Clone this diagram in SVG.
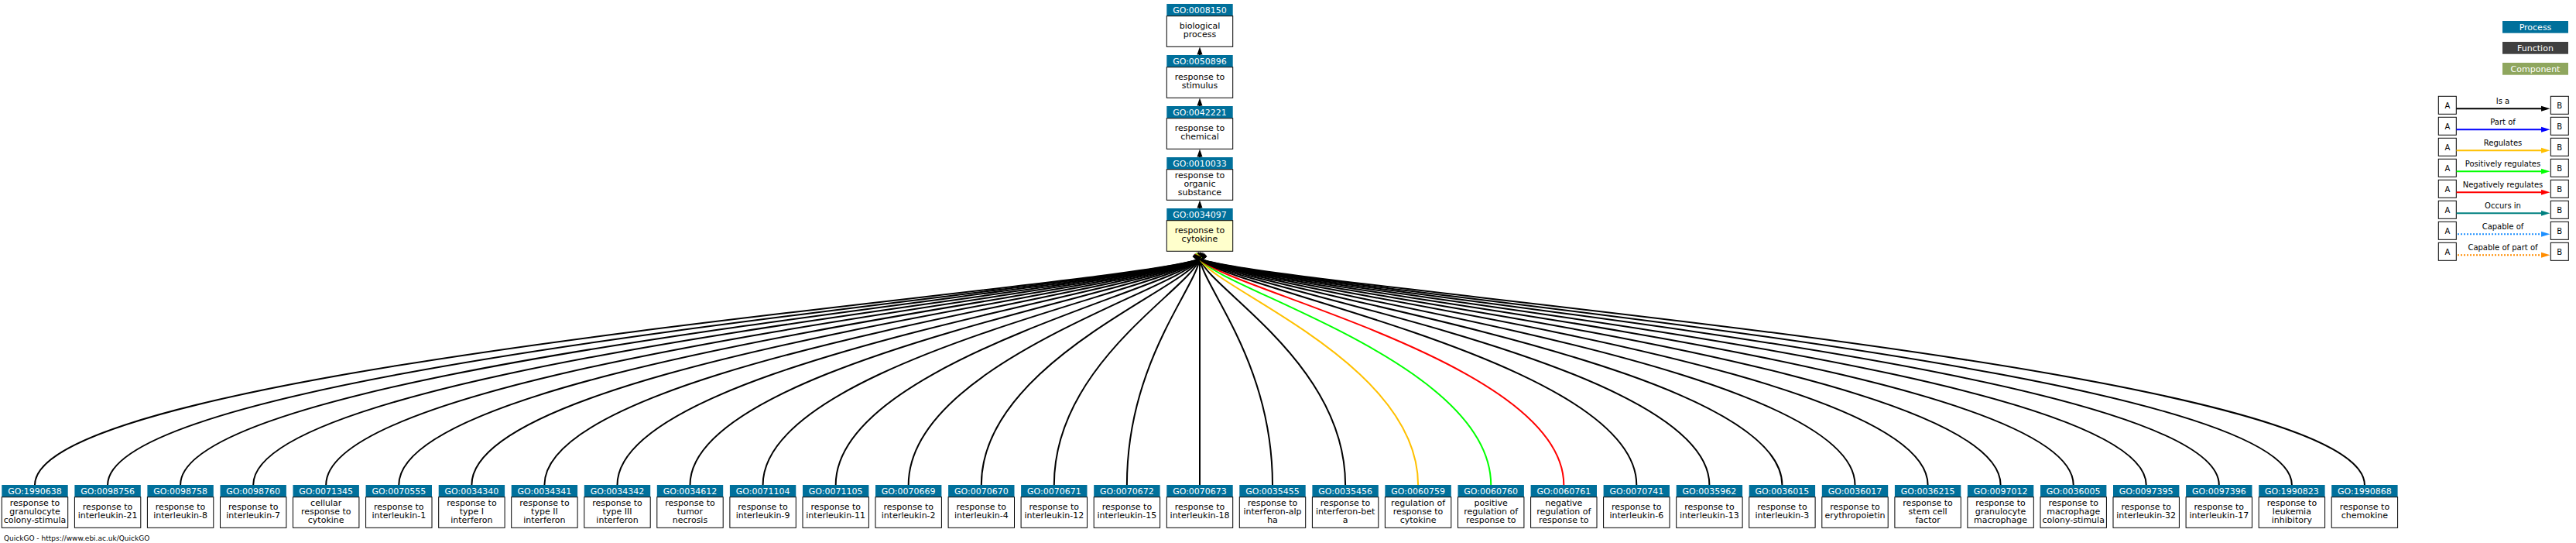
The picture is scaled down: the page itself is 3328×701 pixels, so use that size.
<svg xmlns="http://www.w3.org/2000/svg" width="3328" height="701" viewBox="0 0 3328 701">
<style>
text{font-family:"DejaVu Sans","Liberation Sans",sans-serif;text-anchor:middle}
.hdr{fill:#00709b}
.body{fill:#ffffff;stroke:#000;stroke-width:1}
.sel{fill:#ffffcc}
.ht{font-size:11px;fill:#ffffff}
.bt{font-size:11px;fill:#000}
.e{fill:none;stroke:#000;stroke-width:2}
.k{marker-end:url(#ak)}
.lg{font-size:10px;fill:#000}
.lbox{fill:#fff;stroke:#000;stroke-width:1}
.lt{font-size:11px;fill:#fff}
</style>
<defs>
<marker id="ak" markerUnits="userSpaceOnUse" markerWidth="10" markerHeight="8" viewBox="0 0 10 7" refX="0" refY="3.5" orient="auto"><path d="M0,0 L10,3.5 L0,7 z" fill="#000"/></marker>
<marker id="ay" markerUnits="userSpaceOnUse" markerWidth="10" markerHeight="8" viewBox="0 0 10 7" refX="0" refY="3.5" orient="auto"><path d="M0,0 L10,3.5 L0,7 z" fill="#ffc000"/></marker>
<marker id="ag" markerUnits="userSpaceOnUse" markerWidth="10" markerHeight="8" viewBox="0 0 10 7" refX="0" refY="3.5" orient="auto"><path d="M0,0 L10,3.5 L0,7 z" fill="#00ff00"/></marker>
<marker id="ar" markerUnits="userSpaceOnUse" markerWidth="10" markerHeight="8" viewBox="0 0 10 7" refX="0" refY="3.5" orient="auto"><path d="M0,0 L10,3.5 L0,7 z" fill="#ff0000"/></marker>
</defs>
<rect width="3328" height="701" fill="#ffffff"/>

<g id="connectors">
<line x1="1550" y1="71" x2="1550" y2="68" class="e"/><polygon points="1546.5,70.5 1550,60.5 1553.5,70.5" fill="#000"/>
<line x1="1550" y1="137" x2="1550" y2="134" class="e"/><polygon points="1546.5,136.5 1550,126.5 1553.5,136.5" fill="#000"/>
<line x1="1550" y1="203" x2="1550" y2="200" class="e"/><polygon points="1546.5,202.5 1550,192.5 1553.5,202.5" fill="#000"/>
<line x1="1550" y1="269" x2="1550" y2="266" class="e"/><polygon points="1546.5,268.5 1550,258.5 1553.5,268.5" fill="#000"/>
<path class="e k" d="M45,626 C45,470 1429.6,375 1550,334.5"/>
<path class="e k" d="M139.1,626 C139.1,470 1437.1,375 1550,334.5"/>
<path class="e k" d="M233.1,626 C233.1,470 1444.6,375 1550,334.5"/>
<path class="e k" d="M327.2,626 C327.2,470 1452.2,375 1550,334.5"/>
<path class="e k" d="M421.2,626 C421.2,470 1459.7,375 1550,334.5"/>
<path class="e k" d="M515.3,626 C515.3,470 1467.2,375 1550,334.5"/>
<path class="e k" d="M609.4,626 C609.4,470 1474.8,375 1550,334.5"/>
<path class="e k" d="M703.4,626 C703.4,470 1482.3,375 1550,334.5"/>
<path class="e k" d="M797.5,626 C797.5,470 1489.8,375 1550,334.5"/>
<path class="e k" d="M891.5,626 C891.5,470 1497.3,375 1550,334.5"/>
<path class="e k" d="M985.6,626 C985.6,470 1504.8,375 1550,334.5"/>
<path class="e k" d="M1079.7,626 C1079.7,470 1512.4,375 1550,334.5"/>
<path class="e k" d="M1173.7,626 C1173.7,470 1519.9,375 1550,334.5"/>
<path class="e k" d="M1267.8,626 C1267.8,470 1527.4,375 1550,334.5"/>
<path class="e k" d="M1361.8,626 C1361.8,470 1534.9,375 1550,334.5"/>
<path class="e k" d="M1455.9,626 C1455.9,470 1542.5,375 1550,334.5"/>
<path class="e k" d="M1550,626 L1550,334.5"/>
<path class="e k" d="M1644,626 C1644,470 1557.5,375 1550,334.5"/>
<path class="e k" d="M1738.1,626 C1738.1,470 1565,375 1550,334.5"/>
<path class="e" style="stroke:#ffc000" marker-end="url(#ay)" d="M1832.1,626 C1832.1,470 1572.6,375 1550,334.5"/>
<path class="e" style="stroke:#00ff00" marker-end="url(#ag)" d="M1926.2,626 C1926.2,470 1580.1,375 1550,334.5"/>
<path class="e" style="stroke:#ff0000" marker-end="url(#ar)" d="M2020.3,626 C2020.3,470 1587.6,375 1550,334.5"/>
<path class="e k" d="M2114.3,626 C2114.3,470 1595.1,375 1550,334.5"/>
<path class="e k" d="M2208.4,626 C2208.4,470 1602.7,375 1550,334.5"/>
<path class="e k" d="M2302.4,626 C2302.4,470 1610.2,375 1550,334.5"/>
<path class="e k" d="M2396.5,626 C2396.5,470 1617.7,375 1550,334.5"/>
<path class="e k" d="M2490.6,626 C2490.6,470 1625.2,375 1550,334.5"/>
<path class="e k" d="M2584.6,626 C2584.6,470 1632.8,375 1550,334.5"/>
<path class="e k" d="M2678.7,626 C2678.7,470 1640.3,375 1550,334.5"/>
<path class="e k" d="M2772.7,626 C2772.7,470 1647.8,375 1550,334.5"/>
<path class="e k" d="M2866.8,626 C2866.8,470 1655.3,375 1550,334.5"/>
<path class="e k" d="M2960.9,626 C2960.9,470 1662.9,375 1550,334.5"/>
<path class="e k" d="M3054.9,626 C3054.9,470 1670.4,375 1550,334.5"/>
</g>

<g id="GO_0008150" transform="translate(1507.3,5)"><rect class="hdr" width="85.4" height="15.7"/><rect class="body" y="15.7" width="85.4" height="39.6"/><text class="ht" x="42.7" y="12.3">GO:0008150</text><text class="bt" x="42.7" y="32.4">biological</text><text class="bt" x="42.7" y="43.4">process</text></g>
<g id="GO_0050896" transform="translate(1507.3,71)"><rect class="hdr" width="85.4" height="15.7"/><rect class="body" y="15.7" width="85.4" height="39.6"/><text class="ht" x="42.7" y="12.3">GO:0050896</text><text class="bt" x="42.7" y="32.4">response to</text><text class="bt" x="42.7" y="43.4">stimulus</text></g>
<g id="GO_0042221" transform="translate(1507.3,137)"><rect class="hdr" width="85.4" height="15.7"/><rect class="body" y="15.7" width="85.4" height="39.6"/><text class="ht" x="42.7" y="12.3">GO:0042221</text><text class="bt" x="42.7" y="32.4">response to</text><text class="bt" x="42.7" y="43.4">chemical</text></g>
<g id="GO_0010033" transform="translate(1507.3,203)"><rect class="hdr" width="85.4" height="15.7"/><rect class="body" y="15.7" width="85.4" height="39.6"/><text class="ht" x="42.7" y="12.3">GO:0010033</text><text class="bt" x="42.7" y="26.9">response to</text><text class="bt" x="42.7" y="37.9">organic</text><text class="bt" x="42.7" y="48.9">substance</text></g>
<g id="GO_0034097" transform="translate(1507.3,269)"><rect class="hdr" width="85.4" height="15.7"/><rect class="body sel" y="15.7" width="85.4" height="39.6"/><text class="ht" x="42.7" y="12.3">GO:0034097</text><text class="bt" x="42.7" y="32.4">response to</text><text class="bt" x="42.7" y="43.4">cytokine</text></g>

<g id="GO_1990638" transform="translate(2.3,626)"><rect class="hdr" width="85.4" height="15.7"/><rect class="body" y="15.7" width="85.4" height="39.6"/><text class="ht" x="42.7" y="12.3">GO:1990638</text><text class="bt" x="42.7" y="26.9">response to</text><text class="bt" x="42.7" y="37.9">granulocyte</text><text class="bt" x="42.7" y="48.9">colony-stimula</text></g>
<g id="GO_0098756" transform="translate(96.4,626)"><rect class="hdr" width="85.4" height="15.7"/><rect class="body" y="15.7" width="85.4" height="39.6"/><text class="ht" x="42.7" y="12.3">GO:0098756</text><text class="bt" x="42.7" y="32.4">response to</text><text class="bt" x="42.7" y="43.4">interleukin-21</text></g>
<g id="GO_0098758" transform="translate(190.4,626)"><rect class="hdr" width="85.4" height="15.7"/><rect class="body" y="15.7" width="85.4" height="39.6"/><text class="ht" x="42.7" y="12.3">GO:0098758</text><text class="bt" x="42.7" y="32.4">response to</text><text class="bt" x="42.7" y="43.4">interleukin-8</text></g>
<g id="GO_0098760" transform="translate(284.5,626)"><rect class="hdr" width="85.4" height="15.7"/><rect class="body" y="15.7" width="85.4" height="39.6"/><text class="ht" x="42.7" y="12.3">GO:0098760</text><text class="bt" x="42.7" y="32.4">response to</text><text class="bt" x="42.7" y="43.4">interleukin-7</text></g>
<g id="GO_0071345" transform="translate(378.5,626)"><rect class="hdr" width="85.4" height="15.7"/><rect class="body" y="15.7" width="85.4" height="39.6"/><text class="ht" x="42.7" y="12.3">GO:0071345</text><text class="bt" x="42.7" y="26.9">cellular</text><text class="bt" x="42.7" y="37.9">response to</text><text class="bt" x="42.7" y="48.9">cytokine</text></g>
<g id="GO_0070555" transform="translate(472.6,626)"><rect class="hdr" width="85.4" height="15.7"/><rect class="body" y="15.7" width="85.4" height="39.6"/><text class="ht" x="42.7" y="12.3">GO:0070555</text><text class="bt" x="42.7" y="32.4">response to</text><text class="bt" x="42.7" y="43.4">interleukin-1</text></g>
<g id="GO_0034340" transform="translate(566.7,626)"><rect class="hdr" width="85.4" height="15.7"/><rect class="body" y="15.7" width="85.4" height="39.6"/><text class="ht" x="42.7" y="12.3">GO:0034340</text><text class="bt" x="42.7" y="26.9">response to</text><text class="bt" x="42.7" y="37.9">type I</text><text class="bt" x="42.7" y="48.9">interferon</text></g>
<g id="GO_0034341" transform="translate(660.7,626)"><rect class="hdr" width="85.4" height="15.7"/><rect class="body" y="15.7" width="85.4" height="39.6"/><text class="ht" x="42.7" y="12.3">GO:0034341</text><text class="bt" x="42.7" y="26.9">response to</text><text class="bt" x="42.7" y="37.9">type II</text><text class="bt" x="42.7" y="48.9">interferon</text></g>
<g id="GO_0034342" transform="translate(754.8,626)"><rect class="hdr" width="85.4" height="15.7"/><rect class="body" y="15.7" width="85.4" height="39.6"/><text class="ht" x="42.7" y="12.3">GO:0034342</text><text class="bt" x="42.7" y="26.9">response to</text><text class="bt" x="42.7" y="37.9">type III</text><text class="bt" x="42.7" y="48.9">interferon</text></g>
<g id="GO_0034612" transform="translate(848.8,626)"><rect class="hdr" width="85.4" height="15.7"/><rect class="body" y="15.7" width="85.4" height="39.6"/><text class="ht" x="42.7" y="12.3">GO:0034612</text><text class="bt" x="42.7" y="26.9">response to</text><text class="bt" x="42.7" y="37.9">tumor</text><text class="bt" x="42.7" y="48.9">necrosis</text></g>
<g id="GO_0071104" transform="translate(942.9,626)"><rect class="hdr" width="85.4" height="15.7"/><rect class="body" y="15.7" width="85.4" height="39.6"/><text class="ht" x="42.7" y="12.3">GO:0071104</text><text class="bt" x="42.7" y="32.4">response to</text><text class="bt" x="42.7" y="43.4">interleukin-9</text></g>
<g id="GO_0071105" transform="translate(1037,626)"><rect class="hdr" width="85.4" height="15.7"/><rect class="body" y="15.7" width="85.4" height="39.6"/><text class="ht" x="42.7" y="12.3">GO:0071105</text><text class="bt" x="42.7" y="32.4">response to</text><text class="bt" x="42.7" y="43.4">interleukin-11</text></g>
<g id="GO_0070669" transform="translate(1131,626)"><rect class="hdr" width="85.4" height="15.7"/><rect class="body" y="15.7" width="85.4" height="39.6"/><text class="ht" x="42.7" y="12.3">GO:0070669</text><text class="bt" x="42.7" y="32.4">response to</text><text class="bt" x="42.7" y="43.4">interleukin-2</text></g>
<g id="GO_0070670" transform="translate(1225.1,626)"><rect class="hdr" width="85.4" height="15.7"/><rect class="body" y="15.7" width="85.4" height="39.6"/><text class="ht" x="42.7" y="12.3">GO:0070670</text><text class="bt" x="42.7" y="32.4">response to</text><text class="bt" x="42.7" y="43.4">interleukin-4</text></g>
<g id="GO_0070671" transform="translate(1319.1,626)"><rect class="hdr" width="85.4" height="15.7"/><rect class="body" y="15.7" width="85.4" height="39.6"/><text class="ht" x="42.7" y="12.3">GO:0070671</text><text class="bt" x="42.7" y="32.4">response to</text><text class="bt" x="42.7" y="43.4">interleukin-12</text></g>
<g id="GO_0070672" transform="translate(1413.2,626)"><rect class="hdr" width="85.4" height="15.7"/><rect class="body" y="15.7" width="85.4" height="39.6"/><text class="ht" x="42.7" y="12.3">GO:0070672</text><text class="bt" x="42.7" y="32.4">response to</text><text class="bt" x="42.7" y="43.4">interleukin-15</text></g>
<g id="GO_0070673" transform="translate(1507.3,626)"><rect class="hdr" width="85.4" height="15.7"/><rect class="body" y="15.7" width="85.4" height="39.6"/><text class="ht" x="42.7" y="12.3">GO:0070673</text><text class="bt" x="42.7" y="32.4">response to</text><text class="bt" x="42.7" y="43.4">interleukin-18</text></g>
<g id="GO_0035455" transform="translate(1601.3,626)"><rect class="hdr" width="85.4" height="15.7"/><rect class="body" y="15.7" width="85.4" height="39.6"/><text class="ht" x="42.7" y="12.3">GO:0035455</text><text class="bt" x="42.7" y="26.9">response to</text><text class="bt" x="42.7" y="37.9">interferon-alp</text><text class="bt" x="42.7" y="48.9">ha</text></g>
<g id="GO_0035456" transform="translate(1695.4,626)"><rect class="hdr" width="85.4" height="15.7"/><rect class="body" y="15.7" width="85.4" height="39.6"/><text class="ht" x="42.7" y="12.3">GO:0035456</text><text class="bt" x="42.7" y="26.9">response to</text><text class="bt" x="42.7" y="37.9">interferon-bet</text><text class="bt" x="42.7" y="48.9">a</text></g>
<g id="GO_0060759" transform="translate(1789.4,626)"><rect class="hdr" width="85.4" height="15.7"/><rect class="body" y="15.7" width="85.4" height="39.6"/><text class="ht" x="42.7" y="12.3">GO:0060759</text><text class="bt" x="42.7" y="26.9">regulation of</text><text class="bt" x="42.7" y="37.9">response to</text><text class="bt" x="42.7" y="48.9">cytokine</text></g>
<g id="GO_0060760" transform="translate(1883.5,626)"><rect class="hdr" width="85.4" height="15.7"/><rect class="body" y="15.7" width="85.4" height="39.6"/><text class="ht" x="42.7" y="12.3">GO:0060760</text><text class="bt" x="42.7" y="26.9">positive</text><text class="bt" x="42.7" y="37.9">regulation of</text><text class="bt" x="42.7" y="48.9">response to</text></g>
<g id="GO_0060761" transform="translate(1977.6,626)"><rect class="hdr" width="85.4" height="15.7"/><rect class="body" y="15.7" width="85.4" height="39.6"/><text class="ht" x="42.7" y="12.3">GO:0060761</text><text class="bt" x="42.7" y="26.9">negative</text><text class="bt" x="42.7" y="37.9">regulation of</text><text class="bt" x="42.7" y="48.9">response to</text></g>
<g id="GO_0070741" transform="translate(2071.6,626)"><rect class="hdr" width="85.4" height="15.7"/><rect class="body" y="15.7" width="85.4" height="39.6"/><text class="ht" x="42.7" y="12.3">GO:0070741</text><text class="bt" x="42.7" y="32.4">response to</text><text class="bt" x="42.7" y="43.4">interleukin-6</text></g>
<g id="GO_0035962" transform="translate(2165.7,626)"><rect class="hdr" width="85.4" height="15.7"/><rect class="body" y="15.7" width="85.4" height="39.6"/><text class="ht" x="42.7" y="12.3">GO:0035962</text><text class="bt" x="42.7" y="32.4">response to</text><text class="bt" x="42.7" y="43.4">interleukin-13</text></g>
<g id="GO_0036015" transform="translate(2259.7,626)"><rect class="hdr" width="85.4" height="15.7"/><rect class="body" y="15.7" width="85.4" height="39.6"/><text class="ht" x="42.7" y="12.3">GO:0036015</text><text class="bt" x="42.7" y="32.4">response to</text><text class="bt" x="42.7" y="43.4">interleukin-3</text></g>
<g id="GO_0036017" transform="translate(2353.8,626)"><rect class="hdr" width="85.4" height="15.7"/><rect class="body" y="15.7" width="85.4" height="39.6"/><text class="ht" x="42.7" y="12.3">GO:0036017</text><text class="bt" x="42.7" y="32.4">response to</text><text class="bt" x="42.7" y="43.4">erythropoietin</text></g>
<g id="GO_0036215" transform="translate(2447.9,626)"><rect class="hdr" width="85.4" height="15.7"/><rect class="body" y="15.7" width="85.4" height="39.6"/><text class="ht" x="42.7" y="12.3">GO:0036215</text><text class="bt" x="42.7" y="26.9">response to</text><text class="bt" x="42.7" y="37.9">stem cell</text><text class="bt" x="42.7" y="48.9">factor</text></g>
<g id="GO_0097012" transform="translate(2541.9,626)"><rect class="hdr" width="85.4" height="15.7"/><rect class="body" y="15.7" width="85.4" height="39.6"/><text class="ht" x="42.7" y="12.3">GO:0097012</text><text class="bt" x="42.7" y="26.9">response to</text><text class="bt" x="42.7" y="37.9">granulocyte</text><text class="bt" x="42.7" y="48.9">macrophage</text></g>
<g id="GO_0036005" transform="translate(2636,626)"><rect class="hdr" width="85.4" height="15.7"/><rect class="body" y="15.7" width="85.4" height="39.6"/><text class="ht" x="42.7" y="12.3">GO:0036005</text><text class="bt" x="42.7" y="26.9">response to</text><text class="bt" x="42.7" y="37.9">macrophage</text><text class="bt" x="42.7" y="48.9">colony-stimula</text></g>
<g id="GO_0097395" transform="translate(2730,626)"><rect class="hdr" width="85.4" height="15.7"/><rect class="body" y="15.7" width="85.4" height="39.6"/><text class="ht" x="42.7" y="12.3">GO:0097395</text><text class="bt" x="42.7" y="32.4">response to</text><text class="bt" x="42.7" y="43.4">interleukin-32</text></g>
<g id="GO_0097396" transform="translate(2824.1,626)"><rect class="hdr" width="85.4" height="15.7"/><rect class="body" y="15.7" width="85.4" height="39.6"/><text class="ht" x="42.7" y="12.3">GO:0097396</text><text class="bt" x="42.7" y="32.4">response to</text><text class="bt" x="42.7" y="43.4">interleukin-17</text></g>
<g id="GO_1990823" transform="translate(2918.2,626)"><rect class="hdr" width="85.4" height="15.7"/><rect class="body" y="15.7" width="85.4" height="39.6"/><text class="ht" x="42.7" y="12.3">GO:1990823</text><text class="bt" x="42.7" y="26.9">response to</text><text class="bt" x="42.7" y="37.9">leukemia</text><text class="bt" x="42.7" y="48.9">inhibitory</text></g>
<g id="GO_1990868" transform="translate(3012.2,626)"><rect class="hdr" width="85.4" height="15.7"/><rect class="body" y="15.7" width="85.4" height="39.6"/><text class="ht" x="42.7" y="12.3">GO:1990868</text><text class="bt" x="42.7" y="32.4">response to</text><text class="bt" x="42.7" y="43.4">chemokine</text></g>

<g id="legend-aspects">
<rect x="3233" y="27" width="85" height="15.7" fill="#00709b"/><text class="lt" x="3275.5" y="38.6">Process</text>
<rect x="3233" y="54" width="85" height="15.7" fill="#404040"/><text class="lt" x="3275.5" y="65.6">Function</text>
<rect x="3233" y="81" width="85" height="15.7" fill="#8fa65e"/><text class="lt" x="3275.5" y="92.6">Component</text>
</g>

<g id="legend-relations">
<g transform="translate(0,124.3)"><rect class="lbox" x="3150.3" width="23" height="23"/><rect class="lbox" x="3295.3" width="23" height="23"/><text class="lg" x="3161.8" y="15.3">A</text><text class="lg" x="3306.8" y="15.3">B</text><text class="lg" x="3233.5" y="10">Is a</text><line x1="3173.5" y1="16" x2="3284" y2="16" stroke="#000" stroke-width="2"/><polygon points="3283,12.5 3294.5,16 3283,19.5" fill="#000"/></g>
<g transform="translate(0,151.3)"><rect class="lbox" x="3150.3" width="23" height="23"/><rect class="lbox" x="3295.3" width="23" height="23"/><text class="lg" x="3161.8" y="15.3">A</text><text class="lg" x="3306.8" y="15.3">B</text><text class="lg" x="3233.5" y="10">Part of</text><line x1="3173.5" y1="16" x2="3284" y2="16" stroke="#0000ff" stroke-width="2"/><polygon points="3283,12.5 3294.5,16 3283,19.5" fill="#0000ff"/></g>
<g transform="translate(0,178.3)"><rect class="lbox" x="3150.3" width="23" height="23"/><rect class="lbox" x="3295.3" width="23" height="23"/><text class="lg" x="3161.8" y="15.3">A</text><text class="lg" x="3306.8" y="15.3">B</text><text class="lg" x="3233.5" y="10">Regulates</text><line x1="3173.5" y1="16" x2="3284" y2="16" stroke="#ffc000" stroke-width="2"/><polygon points="3283,12.5 3294.5,16 3283,19.5" fill="#ffc000"/></g>
<g transform="translate(0,205.3)"><rect class="lbox" x="3150.3" width="23" height="23"/><rect class="lbox" x="3295.3" width="23" height="23"/><text class="lg" x="3161.8" y="15.3">A</text><text class="lg" x="3306.8" y="15.3">B</text><text class="lg" x="3233.5" y="10">Positively regulates</text><line x1="3173.5" y1="16" x2="3284" y2="16" stroke="#00ff00" stroke-width="2"/><polygon points="3283,12.5 3294.5,16 3283,19.5" fill="#00ff00"/></g>
<g transform="translate(0,232.3)"><rect class="lbox" x="3150.3" width="23" height="23"/><rect class="lbox" x="3295.3" width="23" height="23"/><text class="lg" x="3161.8" y="15.3">A</text><text class="lg" x="3306.8" y="15.3">B</text><text class="lg" x="3233.5" y="10">Negatively regulates</text><line x1="3173.5" y1="16" x2="3284" y2="16" stroke="#ff0000" stroke-width="2"/><polygon points="3283,12.5 3294.5,16 3283,19.5" fill="#ff0000"/></g>
<g transform="translate(0,259.3)"><rect class="lbox" x="3150.3" width="23" height="23"/><rect class="lbox" x="3295.3" width="23" height="23"/><text class="lg" x="3161.8" y="15.3">A</text><text class="lg" x="3306.8" y="15.3">B</text><text class="lg" x="3233.5" y="10">Occurs in</text><line x1="3173.5" y1="16" x2="3284" y2="16" stroke="#008080" stroke-width="2"/><polygon points="3283,12.5 3294.5,16 3283,19.5" fill="#008080"/></g>
<g transform="translate(0,286.3)"><rect class="lbox" x="3150.3" width="23" height="23"/><rect class="lbox" x="3295.3" width="23" height="23"/><text class="lg" x="3161.8" y="15.3">A</text><text class="lg" x="3306.8" y="15.3">B</text><text class="lg" x="3233.5" y="10">Capable of</text><line x1="3175" y1="16" x2="3284" y2="16" stroke="#1e90ff" stroke-width="2" stroke-dasharray="2,2"/><polygon points="3283,12.5 3294.5,16 3283,19.5" fill="#1e90ff"/></g>
<g transform="translate(0,313.3)"><rect class="lbox" x="3150.3" width="23" height="23"/><rect class="lbox" x="3295.3" width="23" height="23"/><text class="lg" x="3161.8" y="15.3">A</text><text class="lg" x="3306.8" y="15.3">B</text><text class="lg" x="3233.5" y="10">Capable of part of</text><line x1="3175" y1="16" x2="3284" y2="16" stroke="#ff8c00" stroke-width="2" stroke-dasharray="2,2"/><polygon points="3283,12.5 3294.5,16 3283,19.5" fill="#ff8c00"/></g>
</g>

<text x="5" y="697.5" style="font-size:9px;text-anchor:start;fill:#000">QuickGO - https://www.ebi.ac.uk/QuickGO</text>
</svg>
